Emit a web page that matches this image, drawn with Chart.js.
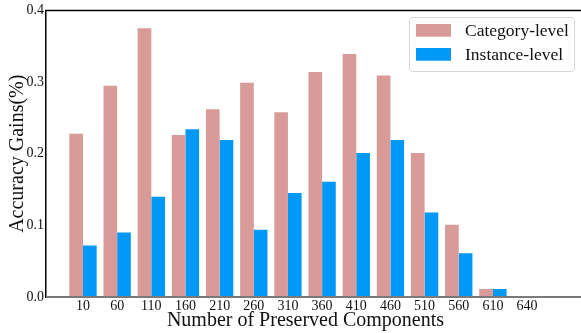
<!DOCTYPE html>
<html>
<head>
<meta charset="utf-8">
<script src="https://cdn.jsdelivr.net/npm/chart.js@4/dist/chart.umd.min.js"></script>
<style>
  html, body { margin: 0; padding: 0; background: #fff; }
  #wrap { width: 581px; height: 333px; }
</style>
</head>
<body>
<div id="wrap"><canvas id="c" width="581" height="333"></canvas></div>
<script>
const categories = ['10','60','110','160','210','260','310','360','410','460','510','560','610','640'];
const categoryLevel = [0.228, 0.295, 0.375, 0.226, 0.262, 0.299, 0.258, 0.314, 0.339, 0.309, 0.201, 0.101, 0.011, 0.0015];
const instanceLevel = [0.072, 0.090, 0.140, 0.234, 0.219, 0.094, 0.145, 0.161, 0.201, 0.219, 0.118, 0.061, 0.011, 0.0015];
const yTicks = [0, 0.1, 0.2, 0.3, 0.4];
const seriesNames = ['Category-level', 'Instance-level'];
const seriesColors = ['#d89b98', '#0099f7'];

const FONT = "'Liberation Serif', 'Times New Roman', serif";

const framePlugin = {
  id: 'frame',
  afterDatasetsDraw(chart) {
    const {ctx, chartArea} = chart;
    ctx.save();
    ctx.strokeStyle = '#000';
    ctx.lineWidth = 1.5;
    ctx.beginPath();
    ctx.moveTo(chartArea.left - 0.75, chartArea.top);
    ctx.lineTo(chart.width, chartArea.top);
    ctx.stroke();
    ctx.strokeStyle = '#7a7a7a';
    ctx.lineWidth = 2;
    ctx.beginPath();
    ctx.moveTo(chartArea.left, chartArea.bottom);
    ctx.lineTo(chart.width, chartArea.bottom);
    ctx.stroke();
    ctx.restore();
  },
  afterDraw(chart) {
    const {ctx} = chart;
    ctx.save();
    const bx = 409.5, by = 17.5, bw = 165, bh = 54, r = 3;
    ctx.fillStyle = 'rgba(255,255,255,0.85)';
    ctx.strokeStyle = '#d6d6d6';
    ctx.lineWidth = 1;
    ctx.beginPath();
    ctx.moveTo(bx + r, by);
    ctx.lineTo(bx + bw - r, by);
    ctx.arcTo(bx + bw, by, bx + bw, by + r, r);
    ctx.lineTo(bx + bw, by + bh - r);
    ctx.arcTo(bx + bw, by + bh, bx + bw - r, by + bh, r);
    ctx.lineTo(bx + r, by + bh);
    ctx.arcTo(bx, by + bh, bx, by + bh - r, r);
    ctx.lineTo(bx, by + r);
    ctx.arcTo(bx, by, bx + r, by, r);
    ctx.closePath();
    ctx.fill();
    ctx.stroke();
    ctx.font = "17.5px " + FONT;
    ctx.textBaseline = 'middle';
    ctx.textAlign = 'left';
    chart.data.datasets.forEach((ds, i) => {
      const y = 24 + i * 24;
      ctx.fillStyle = ds.backgroundColor;
      ctx.fillRect(416, y, 35, 12.7);
      ctx.fillStyle = '#111';
      ctx.fillText(ds.label, 465, y + 7);
    });
    ctx.restore();
  }
};

new Chart(document.getElementById('c'), {
  type: 'bar',
  data: {
    datasets: [
      { label: seriesNames[0], data: categoryLevel.map((v, i) => ({x: i, y: v})), backgroundColor: seriesColors[0], borderWidth: 0 },
      { label: seriesNames[1], data: instanceLevel.map((v, i) => ({x: i, y: v})), backgroundColor: seriesColors[1], borderWidth: 0 }
    ]
  },
  options: {
    responsive: false,
    animation: false,
    devicePixelRatio: 1,
    categoryPercentage: 0.8,
    barPercentage: 1.0,
    layout: { padding: { top: 8, right: 16, left: 0, bottom: 0 } },
    plugins: { legend: { display: false }, tooltip: { enabled: false } },
    scales: {
      x: {
        type: 'linear',
        offset: false,
        min: -1.083,
        max: 14.11,
        afterBuildTicks(scale) { scale.ticks = categories.map((_, i) => ({value: i})); },
        afterFit(scale) { scale.height = 36; },
        grid: { display: false, drawTicks: false, offset: false },
        border: { display: false },
        ticks: {
          autoSkip: false,
          maxRotation: 0,
          padding: 1,
          color: '#111',
          font: { family: FONT, size: 14 },
          callback: (v) => categories[v]
        },
        title: {
          display: true,
          text: 'Number of Preserved Components',
          color: '#111',
          font: { family: FONT, size: 20 },
          padding: { top: 0, bottom: 0 }
        }
      },
      y: {
        min: 0,
        max: 0.4,
        afterBuildTicks(scale) { scale.ticks = yTicks.map(v => ({value: v})); },
        afterFit(scale) { scale.width = 46; },
        grid: { display: false, drawTicks: false },
        border: { display: true, color: '#000', width: 1.5 },
        ticks: {
          padding: 2,
          color: '#111',
          font: { family: FONT, size: 14 },
          callback: (v) => Number(v).toFixed(1)
        },
        title: {
          display: true,
          text: 'Accuracy Gains(%)',
          color: '#111',
          font: { family: FONT, size: 20 },
          padding: { top: 6, bottom: 0 }
        }
      }
    }
  },
  plugins: [framePlugin]
});
</script>
</body>
</html>
